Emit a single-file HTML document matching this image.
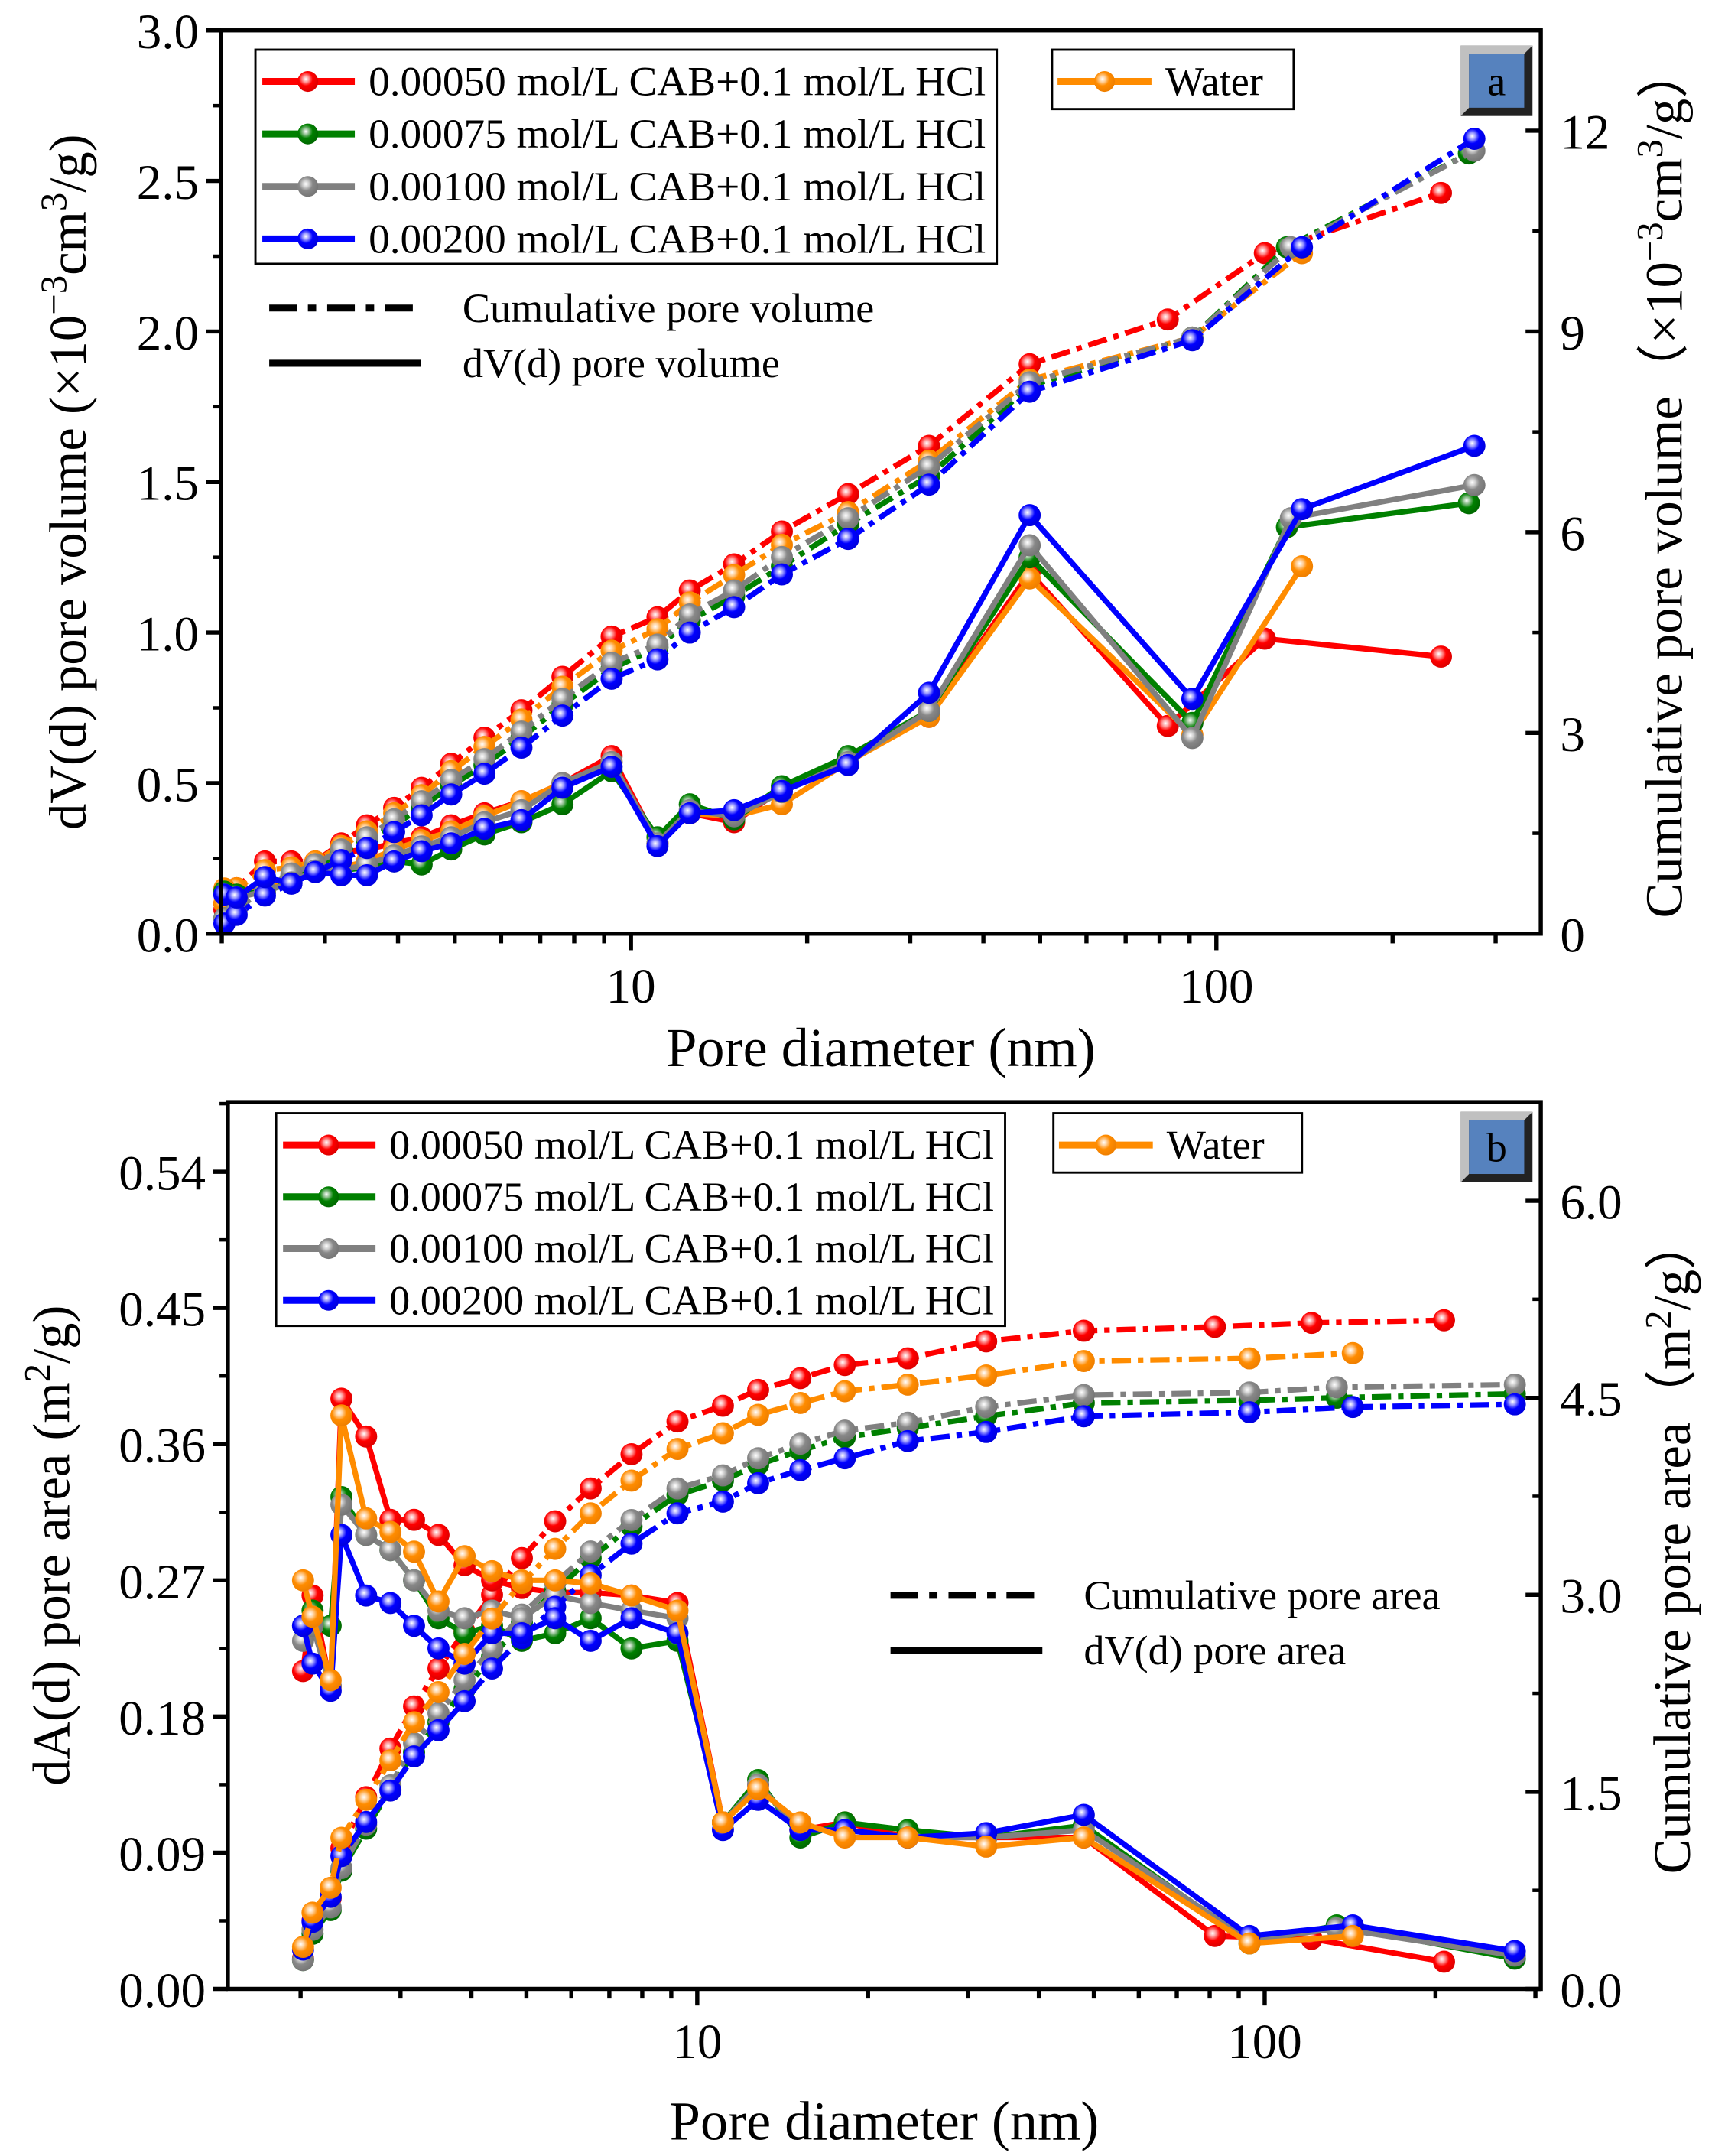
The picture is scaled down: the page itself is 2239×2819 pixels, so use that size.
<!DOCTYPE html>
<html><head><meta charset="utf-8">
<style>
html,body{margin:0;padding:0;background:#fff;}
svg{display:block;}
text{font-family:"Liberation Serif","Times New Roman",serif;fill:#000;}
</style></head>
<body>
<svg id="chart" xmlns="http://www.w3.org/2000/svg" width="2239" height="2819" viewBox="0 0 1240 1561" preserveAspectRatio="none">
<defs>
  <radialGradient id="g-red" cx="0.4" cy="0.38" r="0.6"><stop offset="0" stop-color="#fff"/><stop offset="0.25" stop-color="#ff9a9a"/><stop offset="0.55" stop-color="#ff0000"/><stop offset="1" stop-color="#e00000"/></radialGradient>
  <radialGradient id="g-green" cx="0.4" cy="0.38" r="0.6"><stop offset="0" stop-color="#fff"/><stop offset="0.25" stop-color="#8fc08f"/><stop offset="0.55" stop-color="#008000"/><stop offset="1" stop-color="#006a00"/></radialGradient>
  <radialGradient id="g-gray" cx="0.4" cy="0.38" r="0.6"><stop offset="0" stop-color="#fff"/><stop offset="0.25" stop-color="#d0d0d0"/><stop offset="0.55" stop-color="#888"/><stop offset="1" stop-color="#777"/></radialGradient>
  <radialGradient id="g-blue" cx="0.4" cy="0.38" r="0.6"><stop offset="0" stop-color="#fff"/><stop offset="0.25" stop-color="#9a9aff"/><stop offset="0.55" stop-color="#0000ff"/><stop offset="1" stop-color="#0000e0"/></radialGradient>
  <radialGradient id="g-orange" cx="0.4" cy="0.38" r="0.6"><stop offset="0" stop-color="#fff"/><stop offset="0.25" stop-color="#ffd09a"/><stop offset="0.55" stop-color="#ff8c00"/><stop offset="1" stop-color="#f08000"/></radialGradient>
</defs>
<g id="layer-a"></g>
<g id="layer-b"></g>
</svg>
<script>
// ===== Panel A data =====
const aDiam = [2.02,2.12,2.37,2.63,2.89,3.20,3.54,3.94,4.39,4.93,5.62,6.50,7.64,9.27,11.1,12.6,15.0,18.1,23.5,32.3,48];
const aTailRed = [82.6,121,242];
const aTailGreen = [91,132,270];
const aTailGray = [91,134,276];
const aTailBlue = [91,140,276];
const aTailOrange = [91,140];
const aDvRed = [0.08,0.12,0.15,0.19,0.22,0.27,0.28,0.30,0.32,0.36,0.40,0.44,0.50,0.59,0.30,0.40,0.37,0.48,0.58,0.72,1.20,0.69,0.98,0.92];
const aDvGreen = [0.14,0.13,0.14,0.17,0.21,0.21,0.22,0.24,0.23,0.28,0.33,0.37,0.43,0.54,0.32,0.43,0.38,0.49,0.59,0.74,1.25,0.70,1.35,1.43];
const aDvGray = [0.13,0.12,0.14,0.17,0.21,0.21,0.23,0.26,0.29,0.32,0.37,0.41,0.50,0.57,0.30,0.41,0.39,0.47,0.57,0.74,1.29,0.65,1.38,1.49];
const aDvBlue = [0.13,0.12,0.188,0.166,0.205,0.194,0.194,0.24,0.274,0.30,0.348,0.377,0.485,0.554,0.291,0.40,0.41,0.474,0.56,0.80,1.39,0.78,1.41,1.62];
const aDvOrange = [0.15,0.13,0.15,0.19,0.22,0.22,0.24,0.28,0.31,0.34,0.39,0.44,0.50,0.57,0.30,0.40,0.39,0.43,0.57,0.72,1.18,0.66,1.22];
const aCumRed = [0.45,0.68,1.08,1.08,1.08,1.35,1.62,1.88,2.18,2.54,2.93,3.34,3.84,4.44,4.73,5.13,5.52,6.01,6.57,7.29,8.51,9.18,10.17,11.07];
const aCumGreen = [0.23,0.41,0.68,0.86,0.99,1.22,1.40,1.62,1.89,2.21,2.52,2.93,3.42,3.96,4.28,4.68,5.04,5.49,6.12,6.84,8.19,8.91,10.26,11.66];
const aCumGray = [0.23,0.36,0.68,0.90,1.04,1.26,1.44,1.71,1.98,2.30,2.61,3.02,3.51,4.05,4.32,4.77,5.13,5.63,6.21,6.98,8.24,8.91,10.26,11.70];
const aCumBlue = [0.15,0.28,0.57,0.75,0.92,1.10,1.28,1.52,1.77,2.08,2.39,2.78,3.26,3.81,4.10,4.50,4.88,5.37,5.90,6.71,8.10,8.87,10.26,11.88];
const aCumOrange = [0.45,0.68,0.95,0.99,1.08,1.31,1.53,1.80,2.07,2.43,2.79,3.20,3.69,4.23,4.55,4.95,5.36,5.81,6.30,7.07,8.28,8.91,10.17];
const aLeftTicks = ["0.0","0.5","1.0","1.5","2.0","2.5","3.0"];
const aRightTicks = ["0","3","6","9","12"];

// ===== Panel B data =====
const bDiam = [2.02,2.10,2.26,2.36,2.61,2.88,3.17,3.50,3.89,4.35,4.91,5.62,6.49,7.66,9.23,11.1,12.8,15.2,18.2,23.5,32.3,48];
const bTailRed = [81.7,121,207];
const bTailGreen = [94,134,276];
const bTailGray = [94,134,276];
const bTailBlue = [94,143,276];
const bTailOrange = [94,143];
const bDaRed = [0.21,0.26,0.20,0.39,0.365,0.31,0.31,0.30,0.28,0.27,0.265,0.262,0.262,0.26,0.255,0.11,0.135,0.105,0.11,0.10,0.10,0.10,0.035,0.033,0.018];
const bDaGreen = [0.24,0.25,0.24,0.325,0.30,0.29,0.27,0.245,0.235,0.24,0.23,0.235,0.245,0.225,0.23,0.11,0.138,0.10,0.11,0.105,0.10,0.108,0.03,0.042,0.02];
const bDaGray = [0.23,0.24,0.20,0.32,0.30,0.29,0.27,0.25,0.245,0.25,0.245,0.26,0.255,0.25,0.245,0.11,0.135,0.105,0.105,0.10,0.10,0.105,0.032,0.04,0.022];
const bDaBlue = [0.24,0.215,0.197,0.30,0.26,0.255,0.24,0.225,0.215,0.235,0.235,0.245,0.23,0.245,0.235,0.105,0.125,0.105,0.105,0.10,0.103,0.115,0.035,0.042,0.025];
const bDaOrange = [0.27,0.246,0.204,0.379,0.311,0.302,0.289,0.256,0.286,0.276,0.27,0.27,0.268,0.26,0.25,0.11,0.132,0.11,0.10,0.10,0.094,0.10,0.03,0.035];
const bCumRed = [0.23,0.52,0.69,1.07,1.46,1.83,2.15,2.44,2.72,3.00,3.28,3.56,3.81,4.07,4.32,4.44,4.56,4.65,4.75,4.80,4.93,5.01,5.04,5.07,5.09];
const bCumGreen = [0.22,0.42,0.60,0.90,1.22,1.52,1.80,2.03,2.28,2.53,2.79,3.03,3.28,3.52,3.76,3.87,3.99,4.10,4.20,4.27,4.36,4.46,4.48,4.50,4.53];
const bCumGray = [0.22,0.45,0.62,0.92,1.25,1.55,1.87,2.10,2.35,2.59,2.85,3.09,3.33,3.57,3.81,3.91,4.04,4.15,4.25,4.31,4.43,4.52,4.54,4.58,4.60];
const bCumBlue = [0.30,0.51,0.70,1.01,1.27,1.51,1.77,1.97,2.19,2.44,2.67,2.91,3.15,3.39,3.62,3.71,3.85,3.95,4.04,4.17,4.24,4.36,4.39,4.43,4.45];
const bCumOrange = [0.32,0.58,0.77,1.15,1.44,1.74,2.03,2.26,2.55,2.82,3.09,3.35,3.62,3.87,4.11,4.23,4.37,4.46,4.55,4.60,4.67,4.78,4.80,4.84];
const bLeftTicks = ["0.00","0.09","0.18","0.27","0.36","0.45","0.54"];
const bRightTicks = ["0.0","1.5","3.0","4.5","6.0"];

const seriesLabels = ["0.00050 mol/L CAB+0.1 mol/L HCl","0.00075 mol/L CAB+0.1 mol/L HCl","0.00100 mol/L CAB+0.1 mol/L HCl","0.00200 mol/L CAB+0.1 mol/L HCl"];

const NS = "http://www.w3.org/2000/svg";
const COL = {red:"#ff0000",green:"#008000",gray:"#808080",blue:"#0000ff",orange:"#ff8c00"};
function mk(tag, attrs, parent){
  const e = document.createElementNS(NS, tag);
  for (const k in attrs) e.setAttribute(k, attrs[k]);
  parent.appendChild(e);
  return e;
}
function txt(parent, x, y, s, size, anchor, extra){
  const t = mk("text", Object.assign({x:x, y:y, "font-size":size, "text-anchor":anchor||"start"}, extra||{}), parent);
  t.textContent = s;
  return t;
}

function drawPanel(P){
  const g = document.getElementById(P.layer);
  const L = P.box.l, R = P.box.r, T = P.box.t, B = P.box.b;
  const xS = d => P.x10 + (Math.log10(d) - 1) * P.dec;
  const yL = v => B - v / P.leftMax * (B - T);
  const yR = v => B - v / P.rightMax * (B - T);

  P.order.forEach(s => {
    const xs = P.diam.concat(s.tail);
    [["cum", s.cum, yR, "14,5,4,5"], ["dv", s.dv, yL, null]].forEach(([kind, vals, ys, dash]) => {
      const pts = vals.map((v, i) => [xS(xs[i]), ys(v)]);
      const pl = mk("polyline", {points: pts.map(p => p[0].toFixed(1) + "," + p[1].toFixed(1)).join(" "), fill:"none", stroke:COL[s.c], "stroke-width":4, "stroke-linejoin":"round"}, g);
      if (dash) pl.setAttribute("stroke-dasharray", dash);
      
      
      pts.forEach(p => {
        const c = mk("circle", {cx:p[0].toFixed(1), cy:p[1].toFixed(1), r:8, fill:"url(#g-" + s.c + ")"}, g);
        
        
      });
    });
  });

  const fr = mk("rect", {x:L, y:T, width:R-L, height:B-T, fill:"none", stroke:"#000", "stroke-width":3}, g);
  
  

  const nL = P.leftTicks.length;
  for (let i = 0; i < nL; i++){
    const v = i * P.leftStep;
    const y = yL(v);
    mk("line", {x1:L-11, x2:L, y1:y, y2:y, stroke:"#000", "stroke-width":3}, g);
    const yy = yL(v + P.leftStep/2); if (yy > T) mk("line", {x1:L-6, x2:L, y1:yy, y2:yy, stroke:"#000", "stroke-width":2.5}, g);
    const t = txt(g, L-16, y+13, P.leftTicks[i], 36, "end");
    
    
  }
  P.rightTicks.forEach((s, i) => {
    const v = i * P.rightStep;
    const y = yR(v);
    mk("line", {x1:R-11, x2:R, y1:y, y2:y, stroke:"#000", "stroke-width":3}, g);
    const yy = yR(v + P.rightStep/2);
    if (yy > T) mk("line", {x1:R-6, x2:R, y1:yy, y2:yy, stroke:"#000", "stroke-width":2.5}, g);
    const t = txt(g, R+14, y+13, s, 36, "start");
    
    
  });
  for (let dec = 0; dec <= 3; dec++){
    for (let m = 1; m <= 9; m++){
      const d = m * Math.pow(10, dec);
      const x = xS(d);
      if (x < L - 0.5 || x > R + 0.5) continue;
      const major = (m === 1);
      mk("line", {x1:x, x2:x, y1:B, y2:B + (major ? 12 : 7), stroke:"#000", "stroke-width":3}, g);
      if (major){
        const t = txt(g, x, B + 50, String(d), 36, "middle");
        
        
      }
    }
  }
  const xt = txt(g, (L+R)/2, P.xTitleY, "Pore diameter (nm)", 40, "middle");
  
  
  const lt = txt(g, 0, 0, "", 38, "middle", {transform:"translate(" + P.lTitleX + "," + ((T+B)/2) + ") rotate(-90)"});
  lt.innerHTML = P.lTitle;
  
  
  const rt = txt(g, 0, 0, "", 38, "middle", {transform:"translate(" + P.rTitleX + "," + ((T+B)/2) + ") rotate(-90)"});
  rt.innerHTML = P.rTitle;
  
  

  const lg = P.legend;
  const lb = mk("rect", {x:lg.x, y:lg.y, width:lg.w, height:lg.h, fill:"#fff", stroke:"#000", "stroke-width":1.6}, g);
  
  
  ["red","green","gray","blue"].forEach((c, i) => {
    const y = lg.y + 23 + i * lg.dy;
    mk("line", {x1:lg.x+5, x2:lg.x+72, y1:y, y2:y, stroke:COL[c], "stroke-width":5}, g);
    mk("circle", {cx:lg.x+38, cy:y, r:7.5, fill:"url(#g-" + c + ")"}, g);
    const t = txt(g, lg.x+82, y+10, seriesLabels[i], 30, "start", {textLength:lg.w-90, lengthAdjust:"spacingAndGlyphs"});
    
    
  });
  const wb = mk("rect", {x:lg.wx, y:lg.y, width:lg.ww, height:43, fill:"#fff", stroke:"#000", "stroke-width":1.6}, g);
  
  
  mk("line", {x1:lg.wx+4, x2:lg.wx+72, y1:lg.y+23, y2:lg.y+23, stroke:COL.orange, "stroke-width":5}, g);
  mk("circle", {cx:lg.wx+38, cy:lg.y+23, r:7.5, fill:"url(#g-orange)"}, g);
  const wt = txt(g, lg.wx+82, lg.y+33, "Water", 30, "start");
  
  

  const pb = P.badge;
  mk("rect", {x:pb.x, y:pb.y, width:52, height:51, fill:"#222"}, g);
  mk("polygon", {points:(pb.x)+","+(pb.y)+" "+(pb.x+52)+","+(pb.y)+" "+(pb.x+46)+","+(pb.y+6)+" "+(pb.x+6)+","+(pb.y+6)+" "+(pb.x+6)+","+(pb.y+45)+" "+(pb.x)+","+(pb.y+51), fill:"#c0c0c0"}, g);
  const br = mk("rect", {x:pb.x+6, y:pb.y+6, width:40, height:39, fill:"#5682be"}, g);
  
  
  txt(g, pb.x+26, pb.y+36, P.letter, 30, "middle");

  const sl = P.styleLeg;
  mk("line", {x1:sl.x, x2:sl.x+110, y1:sl.y, y2:sl.y, stroke:"#000", "stroke-width":5, "stroke-dasharray":"20,8,6,8"}, g);
  mk("line", {x1:sl.x, x2:sl.x+110, y1:sl.y+40, y2:sl.y+40, stroke:"#000", "stroke-width":5}, g);
  const s1 = txt(g, sl.x+140, sl.y+10, P.cumLabel, 30, "start");
  
  
  const s2 = txt(g, sl.x+140, sl.y+50, P.dvLabel, 30, "start");
  
  
}

drawPanel({
  id:"a", layer:"layer-a", letter:"a",
  box:{l:160, r:1116, t:22, b:676},
  x10:457, dec:424,
  leftMax:3.0, leftStep:0.5, rightMax:13.5, rightStep:3,
  leftTicks:aLeftTicks, rightTicks:aRightTicks,
  diam:aDiam,
  order:[
    {c:"red", tail:aTailRed, dv:aDvRed, cum:aCumRed},
    {c:"orange", tail:aTailOrange, dv:aDvOrange, cum:aCumOrange},
    {c:"green", tail:aTailGreen, dv:aDvGreen, cum:aCumGreen},
    {c:"gray", tail:aTailGray, dv:aDvGray, cum:aCumGray},
    {c:"blue", tail:aTailBlue, dv:aDvBlue, cum:aCumBlue}
  ],
  xTitleY:772, lTitleX:62, rTitleX:1218,
  lTitle:'dV(d) pore volume (×10<tspan dy="-14" font-size="27">−3</tspan><tspan dy="14">cm</tspan><tspan dy="-14" font-size="27">3</tspan><tspan dy="14">/g)</tspan>',
  rTitle:'Cumulative pore volume（×10<tspan dy="-14" font-size="27">−3</tspan><tspan dy="14">cm</tspan><tspan dy="-14" font-size="27">3</tspan><tspan dy="14">/g）</tspan>',
  legend:{x:185, y:36, w:537, h:155, dy:38, wx:762, ww:175},
  badge:{x:1058, y:33},
  styleLeg:{x:195, y:223},
  cumLabel:"Cumulative pore volume", dvLabel:"dV(d) pore volume"
});

drawPanel({
  id:"b", layer:"layer-b", letter:"b",
  box:{l:165, r:1116, t:798, b:1440},
  x10:505, dec:411,
  leftMax:0.586, leftStep:0.09, rightMax:0.586*11.52, rightStep:1.5,
  leftTicks:bLeftTicks, rightTicks:bRightTicks,
  diam:bDiam,
  order:[
    {c:"red", tail:bTailRed, dv:bDaRed, cum:bCumRed},
    {c:"green", tail:bTailGreen, dv:bDaGreen, cum:bCumGreen},
    {c:"gray", tail:bTailGray, dv:bDaGray, cum:bCumGray},
    {c:"blue", tail:bTailBlue, dv:bDaBlue, cum:bCumBlue},
    {c:"orange", tail:bTailOrange, dv:bDaOrange, cum:bCumOrange}
  ],
  xTitleY:1549, lTitleX:50, rTitleX:1224,
  lTitle:'dA(d) pore area (m<tspan dy="-14" font-size="27">2</tspan><tspan dy="14">/g)</tspan>',
  rTitle:'Cumulative pore area（m<tspan dy="-14" font-size="27">2</tspan><tspan dy="14">/g）</tspan>',
  legend:{x:200, y:806, w:528, h:154, dy:37.5, wx:763, ww:180},
  badge:{x:1058, y:805},
  styleLeg:{x:645, y:1155},
  cumLabel:"Cumulative pore area", dvLabel:"dV(d) pore area"
});
</script>
</body></html>
